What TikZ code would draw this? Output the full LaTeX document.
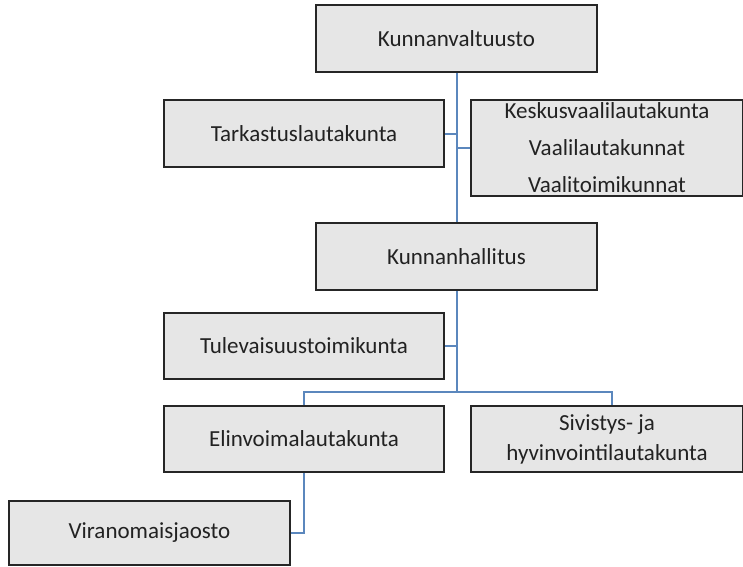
\documentclass[tikz,border=0pt]{standalone}
\usepackage{fontspec}
\setmainfont{Carlito}
\definecolor{boxfill}{HTML}{E6E6E6}
\definecolor{boxline}{HTML}{262626}
\definecolor{conn}{HTML}{5B87BD}
\definecolor{txt}{HTML}{222222}
\begin{document}
\begin{tikzpicture}[x=1pt,y=-1pt,
  orgbox/.style={draw=boxline, line width=2.6pt, fill=boxfill, rectangle, inner sep=0pt,
    text=txt, font=\fontsize{23}{28}\selectfont, align=center},
  conline/.style={draw=conn, line width=2pt}]
\useasboundingbox (0,0) rectangle (743,566);
\node[orgbox, minimum width=281, minimum height=67] (kv) at (456.5,38.5) {Kunnanvaltuusto};
\node[orgbox, minimum width=280, minimum height=67] (tark) at (304,133.5) {Tarkastuslautakunta};
\node[orgbox, minimum width=272, minimum height=96, font=\fontsize{23}{37}\selectfont] (vaali) at (607,148) {Keskusvaalilautakunta\\Vaalilautakunnat\\Vaalitoimikunnat};
\node[orgbox, minimum width=281, minimum height=67] (kh) at (456.5,256.5) {Kunnanhallitus};
\node[orgbox, minimum width=280, minimum height=66] (tul) at (304,346) {Tulevaisuustoimikunta};
\node[orgbox, minimum width=280, minimum height=66] (elin) at (304,439) {Elinvoimalautakunta};
\node[orgbox, minimum width=272, minimum height=66, font=\fontsize{23}{30}\selectfont] (siv) at (607,439) {Sivistys- ja\\hyvinvointilautakunta};
\node[orgbox, minimum width=281, minimum height=64] (vir) at (149.5,533) {Viranomaisjaosto};
\coordinate (br) at (456.5,392);
\begin{scope}[on background layer/.try]
\end{scope}
\draw[conline] (kv.south) -- (kh.north);
\draw[conline] (tark.east) -- (tark.east -| kv.south);
\draw[conline] (vaali.west) -- (vaali.west -| kv.south);
\draw[conline] (kh.south) -- (br);
\draw[conline] (tul.east) -- (tul.east -| kh.south);
\draw[conline] (elin.north) |- (br) -| ([xshift=5]siv.north);
\draw[conline] (elin.south) |- (vir.east);
\end{tikzpicture}
\end{document}
